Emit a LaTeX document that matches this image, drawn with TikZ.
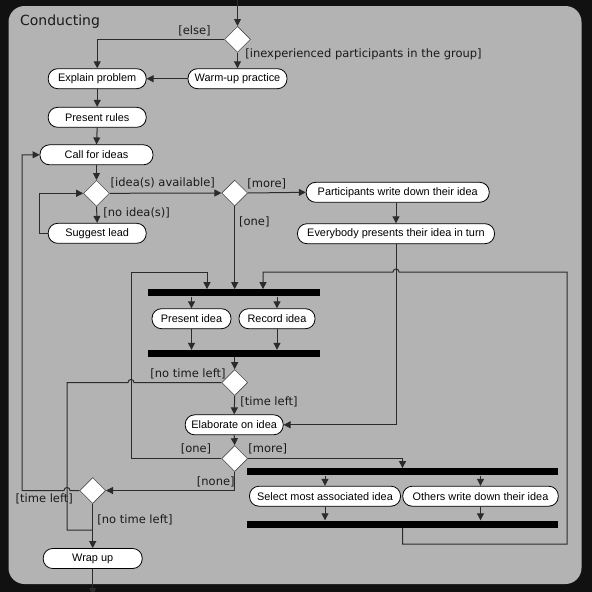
\documentclass[tikz,border=0pt]{standalone}
\usepackage{fontspec}
\setmainfont{Liberation Sans}
\newfontfamily\lblfont{DejaVu Sans}
\usetikzlibrary{arrows.meta,shapes.geometric,calc}
\definecolor{bgdark}{HTML}{111111}
\definecolor{panel}{HTML}{B3B3B3}
\definecolor{ink}{HTML}{1A1A1A}
\definecolor{wirec}{HTML}{2B2B2B}
\begin{document}
\begin{tikzpicture}[x=1pt,y=-1pt,
  act/.style={draw=black, line width=0.8pt, fill=white, rounded corners=9.5pt, minimum height=20pt, inner sep=0pt, font=\fontsize{10.9}{12}\selectfont, text=black},
  dec/.style={diamond, draw=gray!60!black, line width=0.6pt, fill=white, minimum size=26pt, inner sep=0pt},
  bar/.style={fill=black, minimum height=7pt, inner sep=0pt},
  lbl/.style={font=\lblfont\fontsize{11.5}{13}\selectfont, text=ink, inner sep=0pt},
  flow/.style={draw=wirec, line width=1pt, -{Triangle[length=7pt,width=7pt]}},
  wire/.style={draw=wirec, line width=1pt}]
\useasboundingbox (0,0) rectangle (592,592);
\fill[bgdark] (0,0) rectangle (592,592);
\fill[panel, rounded corners=16pt] (8.5,6) rectangle (581.5,584);
\node[lbl, font=\lblfont\fontsize{14}{16}\selectfont] (title) at (60,21.5) {Conducting};

% nodes
\node[dec] (d1) at (237.5,39.3) {};
\node[act, minimum width=98pt] (explain) at (97.2,78.7) {Explain problem};
\node[act, minimum width=99pt] (warmup) at (237.5,78.7) {Warm-up practice};
\node[act, minimum width=98pt] (rules) at (97.2,117.3) {Present rules};
\node[act, minimum width=113pt] (call) at (96.5,154.8) {Call for ideas};
\node[dec] (d2) at (96.5,193.3) {};
\node[dec] (d3) at (234.7,193) {};
\node[act, minimum width=98pt] (suggest) at (97.2,233.3) {Suggest lead};
\node[act, minimum width=183pt] (participants) at (397.7,192.3) {Participants write down their idea};
\node[act, minimum width=197pt] (everybody) at (396,233.7) {Everybody presents their idea in turn};
\node[bar, minimum width=172pt] (bar1) at (234.3,292.8) {};
\node[act, minimum width=79pt] (present) at (191.5,318.7) {Present idea};
\node[act, minimum width=76pt] (record) at (277,318.7) {Record idea};
\node[bar, minimum width=172pt] (bar2) at (234.3,353.5) {};
\node[dec] (d4) at (234.7,382.5) {};
\node[act, minimum width=98pt] (elaborate) at (234.2,424.8) {Elaborate on idea};
\node[dec] (d5) at (234.7,458.5) {};
\node[bar, minimum width=311pt] (bar3) at (402.5,471.8) {};
\node[act, minimum width=151pt] (select) at (325,496.2) {Select most associated idea};
\node[act, minimum width=155.5pt] (others) at (480.5,496.2) {Others write down their idea};
\node[bar, minimum width=311pt] (bar4) at (402.5,524) {};
\node[dec] (d6) at (92.7,490.5) {};
\node[act, minimum width=99pt] (wrap) at (92.7,558.5) {Wrap up};

\coordinate (top) at (237.5,-2);
\coordinate (bottom) at (92.7,595);
\coordinate (join) at (92.7,530);

% labels
\node[lbl] (l1) at (194.5,30.5) {[else]};
\node[lbl] (l2) at (363.5,54.5) {[inexperienced participants in the group]};
\node[lbl] (l3) at (162.8,183) {[idea(s) available]};
\node[lbl] (l4) at (266.7,183.5) {[more]};
\node[lbl] (l5) at (136.7,212.5) {[no idea(s)]};
\node[lbl] (l6) at (254.3,222) {[one]};
\node[lbl] (l7) at (188,374) {[no time left]};
\node[lbl] (l8) at (269,401.5) {[time left]};
\node[lbl] (l9) at (196,449) {[one]};
\node[lbl] (l10) at (267.8,449) {[more]};
\node[lbl] (l11) at (215.8,481.5) {[none]};
\node[lbl] (l12) at (44.3,498.5) {[time left]};
\node[lbl] (l13) at (135,520) {[no time left]};

% connectors
\draw[flow] (top) -- (d1.north);
\draw[flow] (d1.west) -| (explain.north);
\draw[flow] (d1.south) -- (warmup.north);
\draw[flow] (warmup.west) -- (explain.east);
\draw[flow] (explain.south) -- (rules.north);
\draw[flow] (rules.south) -- (call.north);
\draw[flow] (call.south) -- (d2.north);
\draw[flow] (d2.east) -- (d3.west);
\draw[flow] (d2.south) -- (suggest.north);
\draw[flow] (suggest.west) -- ++(-8.5,0) |- (d2.west);
\draw[flow] (d3.east) -- (participants.west);
\draw[flow] (everybody.north |- participants.south) -- (everybody.north);
\draw[flow] (d3.south) -- (d3.south |- bar1.north);
\draw[flow] (everybody.south) |- (elaborate.east);
\draw[flow] (present.north |- bar1.south) -- (present.north);
\draw[flow] (record.north |- bar1.south) -- (record.north);
\draw[flow] (present.south) -- (present.south |- bar2.north);
\draw[flow] (record.south) -- (record.south |- bar2.north);
\draw[flow] (d4.north |- bar2.south) -- (d4.north);
\draw[flow] (d4.south) -- (elaborate.north);
\draw[wire] (d4.west) -- (134,382.5) .. controls (134,378.5) and (128,378.5) .. (128,382.5) -- (67,382.5) -- (67,530) -- (join);
\draw[flow] (elaborate.south) -- (d5.north);
\draw[flow] (d5.west) -| (131,272) -| (207,0 |- bar1.north);
\draw[flow] (d5.east) -| (402.5,0 |- bar3.north);
\draw[flow] (d5.south) |- (d6.east);
\draw[flow] (select.north |- bar3.south) -- (select.north);
\draw[flow] (others.north |- bar3.south) -- (others.north);
\draw[flow] (select.south) -- (select.south |- bar4.north);
\draw[flow] (others.south) -- (others.south |- bar4.north);
\draw[flow] (bar4.south) -- (402.5,544) -- (567,544) -- (567,272) -- (399,272) .. controls (399,268) and (393,268) .. (393,272) -- (263,272) -- (263,0 |- bar1.north);
\draw[flow] (d6.west) -- (70,490.5) .. controls (70,486.5) and (64,486.5) .. (64,490.5) -- (22,490.5) |- (call.west);
\draw[flow] (d6.south) -- (wrap.north);
\draw[flow] (wrap.south) -- (bottom);
\end{tikzpicture}
\end{document}
